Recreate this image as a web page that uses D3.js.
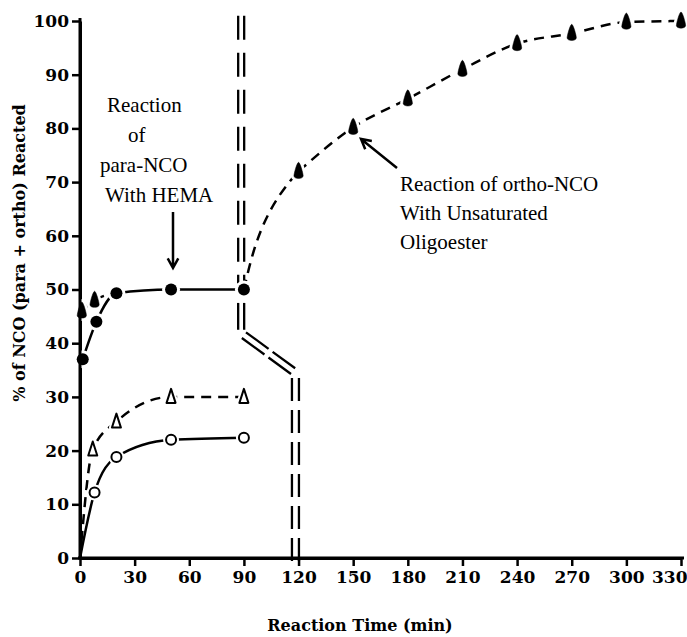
<!DOCTYPE html>
<html>
<head>
<meta charset="utf-8">
<script src="https://cdn.jsdelivr.net/npm/d3@7"></script>
<style>
  body { margin: 0; background: #fff; }
  svg { display: block; }
  .tick text { font-family: "DejaVu Serif", serif; font-weight: bold; font-size: 17px; fill: #000; }
  .title { font-family: "DejaVu Serif", serif; font-weight: bold; font-size: 16px; }
  .note { font-family: "Liberation Serif", "Times New Roman", serif; font-size: 21px; }
</style>
</head>
<body>
<div id="chart"></div>
<script>

//
// data
//
// para-NCO reacted with HEMA - filled circles, solid line
var paraTime  = [1.5, 9, 20, 50, 90];
var paraValue = [37, 44, 49.3, 50, 50];

// para + ortho reacted - filled triangles, dashed line
var totalTimeEarly  = [1, 8];
var totalValueEarly = [46, 48];
var totalTimeLate   = [120, 150, 180, 210, 240, 270, 300, 330];
var totalValueLate  = [72, 80.2, 85.5, 91, 95.8, 97.7, 99.8, 100];

// open triangles, dashed line
var openTriTime  = [7, 20, 50, 90];
var openTriValue = [20.2, 25.4, 30, 30];

// open circles, solid line
var openCircTime  = [8, 20, 50, 90];
var openCircValue = [12.2, 18.8, 22, 22.4];

var xTicks = d3.range(0, 331, 30);
var yTicks = d3.range(0, 101, 10);


//
// setup
//
var width = 687, height = 637;

var svg = d3.select("#chart").append("svg")
    .attr("width", width)
    .attr("height", height);

var x = d3.scaleLinear().domain([0, 330]).range([80, 681]);
var y = d3.scaleLinear().domain([0, 100]).range([558, 21]);

function pts(t, v) {
  return t.map(function(d, i) { return [d, v[i]]; });
}

var line = d3.line()
    .x(function(d) { return x(d[0]); })
    .y(function(d) { return y(d[1]); })
    .curve(d3.curveMonotoneX);

// the ortho curve leaves the 90 min point almost vertically
var lineY = d3.line()
    .x(function(d) { return x(d[0]); })
    .y(function(d) { return y(d[1]); })
    .curve(d3.curveMonotoneY);

var defs = svg.append("defs");
defs.append("clipPath").attr("id", "before120")
  .append("rect").attr("x", 0).attr("y", 0).attr("width", x(120)).attr("height", height);


//
// axes
//
var xAxis = svg.append("g")
    .attr("transform", "translate(0," + y(0) + ")")
    .call(d3.axisBottom(x).tickValues(xTicks).tickSize(8).tickSizeOuter(0).tickPadding(5));

var yAxis = svg.append("g")
    .attr("transform", "translate(" + x(0) + ",0)")
    .call(d3.axisLeft(y).tickValues(yTicks).tickSize(8).tickSizeOuter(0).tickPadding(3));

[xAxis, yAxis].forEach(function(a) {
  a.select(".domain").attr("stroke", "#000").attr("stroke-width", 3);
  a.selectAll(".tick line").attr("stroke", "#000").attr("stroke-width", 2.5);
});
// last label is squeezed against the right edge
xAxis.selectAll(".tick text")
    .filter(function(d) { return d === 330; })
    .attr("text-anchor", "end")
    .attr("x", 6);

// the drawn axis lines run a little past the end ticks
svg.append("line").attr("x1", x(0) - 2).attr("x2", x(330) + 3)
    .attr("y1", y(0)).attr("y2", y(0)).attr("stroke", "#000").attr("stroke-width", 3);

svg.append("text").attr("class", "title")
    .attr("x", 360).attr("y", 631)
    .attr("text-anchor", "middle")
    .text("Reaction Time (min)");

svg.append("text").attr("class", "title")
    .attr("transform", "translate(25,253) rotate(-90)")
    .attr("text-anchor", "middle")
    .text("% of NCO (para + ortho) Reacted");


//
// axis break marks (double dashed lines)
//
function doubleLine(x1, y1, x2, y2, gap, dash) {
  var dx = x2 - x1, dy = y2 - y1, len = Math.sqrt(dx * dx + dy * dy);
  var ox = -dy / len * gap / 2, oy = dx / len * gap / 2;
  [-1, 1].forEach(function(s) {
    svg.append("line")
      .attr("x1", x1 + s * ox).attr("y1", y1 + s * oy)
      .attr("x2", x2 + s * ox).attr("y2", y2 + s * oy)
      .attr("stroke", "#000").attr("stroke-width", 2.3)
      .attr("stroke-dasharray", dash);
  });
}
doubleLine(x(88.5), y(101), x(88.5), y(51), 6, "24,13");
doubleLine(x(88.5), y(47.5), x(88.5), y(42.5), 6, "30,0");
doubleLine(x(90), y(41.5), x(117), y(34.8), 7, "28,5");
doubleLine(x(118.3), y(33.5), x(118.3), y(-1.5), 7, "23,9");


//
// curves
//
function drawCurve(data, dash, gen, clip) {
  svg.append("path")
    .datum(data)
    .attr("d", gen || line)
    .attr("fill", "none")
    .attr("stroke", "#000")
    .attr("stroke-width", 2.5)
    .attr("stroke-dasharray", dash || null)
    .attr("clip-path", clip || null);
}

var para = pts(paraTime, paraValue);
var late = pts(totalTimeLate, totalValueLate);
drawCurve(para);
drawCurve(pts(totalTimeEarly, totalValueEarly).concat([para[2]]), "10,7");
// 90 -> 120 steep rise, then the smooth approach to 100 %
drawCurve([para[4]].concat(late.slice(0, 2)), "10,7", lineY, "url(#before120)");
drawCurve(late, "10,7");
drawCurve([[0, 0]].concat(pts(openTriTime, openTriValue)), "10,7");
drawCurve([[0, 0]].concat(pts(openCircTime, openCircValue)));


//
// markers
//
var triPath = "M0,-8 L4.5,6 L-4.5,6 Z";
var bulletPath = "M0,-9 C1.5,-9 4.6,2 4.6,4.5 C4.6,8 -4.6,8 -4.6,4.5 C-4.6,2 -1.5,-9 0,-9 Z";

function drawMarkers(data, kind) {
  var g = svg.append("g");
  var m = g.selectAll("g").data(data).enter().append("g")
      .attr("transform", function(d) { return "translate(" + x(d[0]) + "," + y(d[1]) + ")"; });
  if (kind === "dot" || kind === "ring") {
    var r = kind === "dot" ? 6 : 5;
    m.append("circle").attr("r", r + 3).attr("fill", "#fff");
    m.append("circle").attr("r", r)
      .attr("fill", kind === "dot" ? "#000" : "#fff")
      .attr("stroke", "#000").attr("stroke-width", kind === "dot" ? 0 : 2);
  } else {
    var p = kind === "bullet" ? bulletPath : triPath;
    m.append("path").attr("d", p).attr("fill", "#fff")
      .attr("stroke", "#fff").attr("stroke-width", 6).attr("stroke-linejoin", "round");
    m.append("path").attr("d", p)
      .attr("fill", kind === "bullet" ? "#000" : "#fff")
      .attr("stroke", "#000").attr("stroke-width", kind === "bullet" ? 0.5 : 2)
      .attr("stroke-linejoin", "round");
  }
}

drawMarkers(pts(openCircTime, openCircValue), "ring");
drawMarkers(pts(openTriTime, openTriValue), "tri");
drawMarkers(pts(totalTimeEarly, totalValueEarly), "bullet");
drawMarkers(late, "bullet");
drawMarkers(para, "dot");
// keep the y axis line over the markers sitting on it
svg.append("line").attr("x1", x(0)).attr("x2", x(0))
    .attr("y1", y(0) + 1).attr("y2", y(100) - 3).attr("stroke", "#000").attr("stroke-width", 3);


//
// annotations
//
var leftNote = [
  { text: "Reaction",  x: 107, y: 112 },
  { text: "of",        x: 128, y: 142 },
  { text: "para-NCO",  x: 100, y: 172 },
  { text: "With HEMA", x: 105, y: 202 }
];
var rightNote = [
  { text: "Reaction of ortho-NCO", x: 400, y: 191 },
  { text: "With Unsaturated",      x: 400, y: 220 },
  { text: "Oligoester",            x: 400, y: 249 }
];
svg.selectAll("text.note").data(leftNote.concat(rightNote)).enter()
    .append("text").attr("class", "note")
    .attr("x", function(d) { return d.x; })
    .attr("y", function(d) { return d.y; })
    .text(function(d) { return d.text; });

function arrow(x1, y1, x2, y2) {
  var a = Math.atan2(y2 - y1, x2 - x1), h = 11, w = 0.5;
  svg.append("path")
    .attr("d", "M" + x1 + "," + y1 + "L" + x2 + "," + y2 +
      "M" + (x2 - h * Math.cos(a - w)) + "," + (y2 - h * Math.sin(a - w)) +
      "L" + x2 + "," + y2 +
      "L" + (x2 - h * Math.cos(a + w)) + "," + (y2 - h * Math.sin(a + w)))
    .attr("fill", "none").attr("stroke", "#000").attr("stroke-width", 2.5);
}
arrow(173, 212, 173, 268);
arrow(397, 168, 361, 139);

</script>
</body>
</html>
